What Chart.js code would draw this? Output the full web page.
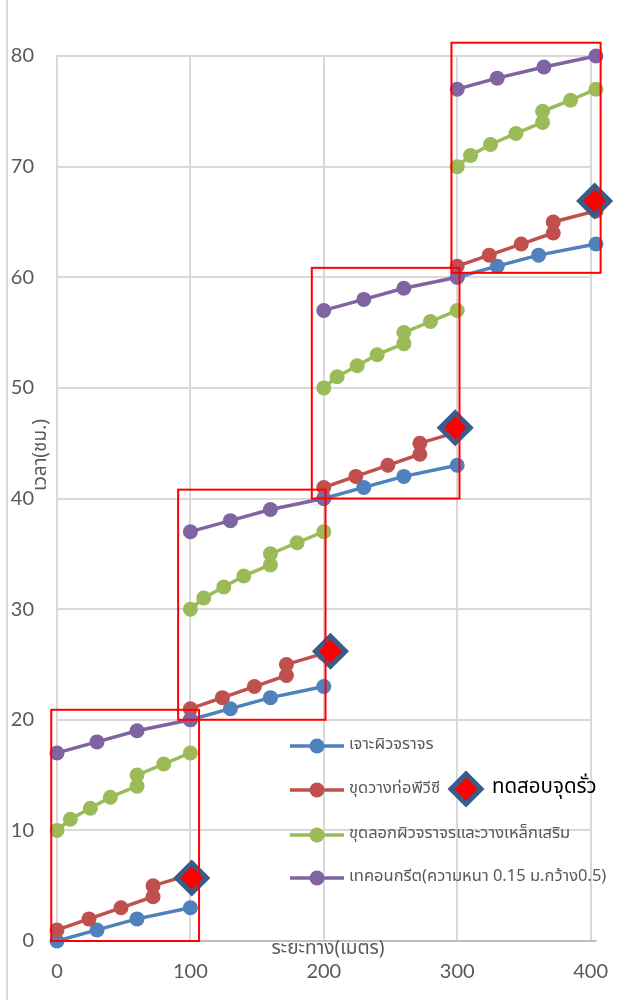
<!DOCTYPE html>
<html>
<head>
<meta charset="utf-8">
<script src="https://cdn.jsdelivr.net/npm/chart.js@4.4.1/dist/chart.umd.min.js"></script>
<style>
  html, body { margin: 0; padding: 0; background: #ffffff; }
  #wrap { width: 627px; height: 1000px; }
</style>
</head>
<body>
<div id="wrap"><canvas id="chart" width="627" height="1000"></canvas></div>
<script>
// Work progress: elapsed time (hours) against distance (metres), four tasks per 100 m section
const seriesNames = [
  'เจาะผิวจราจร',
  'ขุดวางท่อพีวีซี',
  'ขุดลอกผิวจราจรและวางเหล็กเสริม',
  'เทคอนกรีต(ความหนา 0.15 ม.กว้าง0.5)'
];
const leakTestLabel = 'ทดสอบจุดรั่ว';
const xAxisTitle = 'ระยะทาง(เมตร)';
const yAxisTitle = 'เวลา(ชม.)';

// null separates the 100 m sections
const drillX = [0, 30, 60, 100, null, 100, 130, 160, 200, null, 200, 230, 260, 300, null, 300, 330, 361, 404];
const drillY = [0, 1, 2, 3, null, 20, 21, 22, 23, null, 40, 41, 42, 43, null, 60, 61, 62, 63];

const pipeX = [0, 24, 48, 72, 72, 100, null, 100, 124, 148, 172, 172, 200, null, 200, 224, 248, 272, 272, 300, null, 300, 324, 348, 372, 372, 404];
const pipeY = [1, 2, 3, 4, 5, 6, null, 21, 22, 23, 24, 25, 26, null, 41, 42, 43, 44, 45, 46, null, 61, 62, 63, 64, 65, 66];

const steelX = [0, 10, 25, 40, 60, 60, 80, 100, null, 100, 110, 125, 140, 160, 160, 180, 200, null, 200, 210, 225, 240, 260, 260, 280, 300, null, 300, 310, 325, 344, 364, 364, 385, 404];
const steelY = [10, 11, 12, 13, 14, 15, 16, 17, null, 30, 31, 32, 33, 34, 35, 36, 37, null, 50, 51, 52, 53, 54, 55, 56, 57, null, 70, 71, 72, 73, 74, 75, 76, 77];

const concreteX = [0, 30, 60, 100, null, 100, 130, 160, 200, null, 200, 230, 260, 300, null, 300, 330, 365, 404];
const concreteY = [17, 18, 19, 20, null, 37, 38, 39, 40, null, 57, 58, 59, 60, null, 77, 78, 79, 80];

// leak test checkpoints at the end of each section
const leakX = [101, 205, 298.5, 403];
const leakY = [5.7, 26.2, 46.4, 66.9];

// section frames in axis units: [xFrom, xTo, yFrom, yTo]
const sectionFrames = [
  [-4.3, 106.5, 0, 20.9],
  [90.8, 201.3, 20, 40.8],
  [191, 301.7, 40, 60.85],
  [295.7, 407.5, 60.4, 81.2]
];

const xTicks = [0, 100, 200, 300, 400];
const yTicks = [0, 10, 20, 30, 40, 50, 60, 70, 80];

const colors = ['#4F81BD', '#C0504D', '#9BBB59', '#8064A2'];
const thaiFont = "'Noto Sans Thai', 'Leelawadee UI', Tahoma, 'DejaVu Sans', sans-serif";
const numFont = "Lato, 'Open Sans', sans-serif";
const textGray = '#595959';

function pairs(xs, ys) {
  return xs.map((x, i) => ({ x: x, y: ys[i] }));
}

function lineSeries(label, xs, ys, color, order) {
  return {
    label: label,
    data: pairs(xs, ys),
    showLine: true,
    spanGaps: false,
    borderColor: color,
    backgroundColor: color,
    borderWidth: 3.5,
    pointRadius: 7.5,
    pointHoverRadius: 7.5,
    pointBorderWidth: 0,
    pointBackgroundColor: color,
    clip: false,
    order: order
  };
}

const datasets = [
  lineSeries(seriesNames[0], drillX, drillY, colors[0], 4),
  lineSeries(seriesNames[1], pipeX, pipeY, colors[1], 3),
  lineSeries(seriesNames[2], steelX, steelY, colors[2], 2),
  lineSeries(seriesNames[3], concreteX, concreteY, colors[3], 1),
  {
    label: leakTestLabel,
    data: pairs(leakX, leakY),
    showLine: false,
    pointStyle: 'rectRot',
    pointRadius: 15,
    pointHoverRadius: 15,
    pointBackgroundColor: '#FF0000',
    pointBorderColor: '#385D8A',
    pointBorderWidth: 5,
    backgroundColor: '#FF0000',
    borderColor: '#385D8A',
    clip: false,
    order: 0
  }
];

// Page frame line at the left edge
const framePlugin = {
  id: 'frame',
  beforeDraw(chart) {
    const ctx = chart.ctx;
    ctx.save();
    ctx.fillStyle = '#ffffff';
    ctx.fillRect(0, 0, chart.width, chart.height);
    ctx.fillStyle = '#D9D9D9';
    ctx.fillRect(6, 0, 2, chart.height);
    ctx.restore();
  }
};

// Axis titles placed inside the axis band, plus the short overhang of the x axis line
const axisTitlePlugin = {
  id: 'axisTitles',
  afterDraw(chart) {
    const ctx = chart.ctx;
    const area = chart.chartArea;
    ctx.save();
    ctx.fillStyle = '#BFBFBF';
    ctx.fillRect(area.right, area.bottom - 1, 6, 2);

    ctx.fillStyle = textGray;
    ctx.font = '19px ' + thaiFont;
    ctx.textAlign = 'center';
    ctx.textBaseline = 'middle';
    ctx.fillText(xAxisTitle, 328, area.bottom + 9);

    ctx.translate(42, 455);
    ctx.rotate(-Math.PI / 2);
    ctx.fillText(yAxisTitle, 0, 0);
    ctx.restore();
  }
};

// Red frames around each section, drawn through the scales
const sectionFramePlugin = {
  id: 'sectionFrames',
  afterDatasetsDraw(chart) {
    const ctx = chart.ctx;
    const xs = chart.scales.x;
    const ys = chart.scales.y;
    ctx.save();
    ctx.strokeStyle = '#FF0000';
    ctx.lineWidth = 2;
    sectionFrames.forEach(f => {
      const x0 = xs.getPixelForValue(f[0]);
      const x1 = xs.getPixelForValue(f[1]);
      const y0 = ys.getPixelForValue(f[2]);
      const y1 = ys.getPixelForValue(f[3]);
      ctx.strokeRect(x0, y1, x1 - x0, y0 - y1);
    });
    ctx.restore();
  }
};

// Legend drawn inside the plot, with the leak-test key beside it
const legendPlugin = {
  id: 'insideLegend',
  afterDraw(chart) {
    const ctx = chart.ctx;
    const rows = [746, 790, 835, 878];
    ctx.save();
    chart.data.datasets.slice(0, 4).forEach((ds, i) => {
      const y = rows[i];
      ctx.strokeStyle = ds.borderColor;
      ctx.lineWidth = 3.5;
      ctx.beginPath();
      ctx.moveTo(290, y);
      ctx.lineTo(344, y);
      ctx.stroke();
      ctx.fillStyle = ds.borderColor;
      ctx.beginPath();
      ctx.arc(317, y, 7.5, 0, Math.PI * 2);
      ctx.fill();
      ctx.fillStyle = textGray;
      ctx.font = '16.5px ' + thaiFont;
      ctx.textAlign = 'left';
      ctx.textBaseline = 'middle';
      ctx.fillText(ds.label, 349, y);
    });

    const leak = chart.data.datasets[4];
    const cx = 466, cy = 789, r = 15;
    ctx.fillStyle = leak.pointBackgroundColor;
    ctx.strokeStyle = leak.pointBorderColor;
    ctx.lineWidth = 5;
    ctx.beginPath();
    ctx.moveTo(cx, cy - r);
    ctx.lineTo(cx + r, cy);
    ctx.lineTo(cx, cy + r);
    ctx.lineTo(cx - r, cy);
    ctx.closePath();
    ctx.fill();
    ctx.stroke();
    ctx.fillStyle = '#000000';
    ctx.font = '20.5px ' + thaiFont;
    ctx.textAlign = 'left';
    ctx.textBaseline = 'middle';
    ctx.fillText(leak.label, 492, cy);
    ctx.restore();
  }
};

new Chart(document.getElementById('chart'), {
  type: 'scatter',
  data: { datasets: datasets },
  plugins: [framePlugin, sectionFramePlugin, axisTitlePlugin, legendPlugin],
  options: {
    responsive: false,
    animation: false,
    devicePixelRatio: 1,
    layout: { padding: { top: 56, right: 35, bottom: 0, left: 0 } },
    plugins: {
      legend: { display: false },
      tooltip: { enabled: false },
      title: { display: false }
    },
    scales: {
      x: {
        type: 'linear',
        min: xTicks[0],
        max: xTicks[xTicks.length - 1],
        afterBuildTicks(scale) { scale.ticks = xTicks.map(v => ({ value: v })); },
        afterFit(scale) { scale.height = 59; },
        ticks: {
          color: textGray,
          font: { family: numFont, size: 20 },
          padding: 19,
          maxRotation: 0
        },
        grid: { color: '#D9D9D9', lineWidth: 2, drawTicks: false },
        border: { color: '#BFBFBF', width: 2 }
      },
      y: {
        type: 'linear',
        min: yTicks[0],
        max: yTicks[yTicks.length - 1],
        afterBuildTicks(scale) { scale.ticks = yTicks.map(v => ({ value: v })); },
        afterFit(scale) { scale.width = 57; },
        ticks: {
          color: textGray,
          font: { family: numFont, size: 20 },
          padding: 23
        },
        grid: { color: '#D9D9D9', lineWidth: 2, drawTicks: false },
        border: { color: '#D9D9D9', width: 2 }
      }
    }
  }
});
</script>
</body>
</html>
